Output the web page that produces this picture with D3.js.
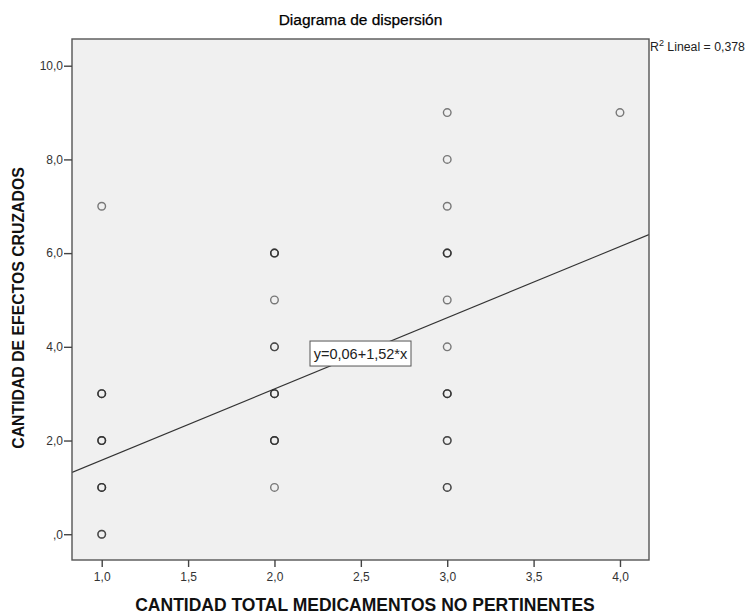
<!DOCTYPE html>
<html>
<head>
<meta charset="utf-8">
<script src="https://cdn.jsdelivr.net/npm/d3@7.9.0/dist/d3.min.js"></script>
<style>
  body { margin: 0; background: #fff; }
  svg { font-family: Arial, "Liberation Sans", sans-serif; }
</style>
</head>
<body>
<svg id="chart" width="748" height="615"></svg>
<script>
// data: one entry per case (duplicates overlap and look darker)
const xValues = [
  1, 1, 1, 1, 1, 1, 1, 1, 1, 1, 1, 1,
  2, 2, 2, 2, 2, 2, 2, 2, 2, 2, 2, 2, 2,
  3, 3, 3, 3, 3, 3, 3, 3, 3, 3, 3, 3, 3, 3, 3,
  4
];
const yValues = [
  7, 3, 3, 3, 2, 2, 2, 1, 1, 1, 0, 0,
  6, 6, 6, 5, 4, 4, 3, 3, 3, 2, 2, 2, 1,
  9, 8, 7, 6, 6, 6, 5, 4, 3, 3, 3, 2, 2, 1, 1,
  9
];
const xTicks = [1, 1.5, 2, 2.5, 3, 3.5, 4];
const yTicks = [0, 2, 4, 6, 8, 10];
const intercept = 0.06;
const slope = 1.52;
const rSquared = "0,378";

const fmt = (v) => (v === 0 ? ",0" : d3.format(".1f")(v).replace(".", ","));

const svg = d3.select("#chart");
const pLeft = 72, pRight = 649, pTop = 39, pBottom = 560;

let x = d3.scaleLinear().domain([0.828, 4.168]).range([pLeft, pRight]);
let y = d3.scaleLinear().domain([-0.55, 10.57]).range([pBottom, pTop]);

// plot background
svg.append("rect")
  .attr("x", pLeft).attr("y", pTop)
  .attr("width", pRight - pLeft).attr("height", pBottom - pTop)
  .attr("fill", "#f0f0f0");

// fit line, clipped to the frame
svg.append("defs").append("clipPath").attr("id", "clip")
  .append("rect").attr("x", pLeft).attr("y", pTop)
  .attr("width", pRight - pLeft).attr("height", pBottom - pTop);

const [x0, x1] = x.domain();
svg.append("line")
  .attr("clip-path", "url(#clip)")
  .attr("x1", x(x0)).attr("y1", y(intercept + slope * x0))
  .attr("x2", x(x1)).attr("y2", y(intercept + slope * x1))
  .attr("stroke", "#333").attr("stroke-width", 1.1);

// points
svg.append("g").selectAll("circle")
  .data(xValues.map((d, i) => [d, yValues[i]]))
  .join("circle")
  .attr("cx", (d) => x(d[0]))
  .attr("cy", (d) => y(d[1]))
  .attr("r", 3.8)
  .attr("fill", "none")
  .attr("stroke", "rgba(40,40,40,0.6)")
  .attr("stroke-width", 1.4);

// equation box at the middle of the x range
const xm = (x0 + x1) / 2;
const eq = svg.append("g")
  .attr("transform", `translate(${x(xm)},${y(intercept + slope * xm)})`);
eq.append("rect")
  .attr("x", -50.5).attr("y", -12.5).attr("width", 101).attr("height", 25)
  .attr("fill", "#fff").attr("stroke", "#555").attr("stroke-width", 1);
eq.append("text")
  .attr("text-anchor", "middle").attr("dy", "0.36em")
  .attr("font-size", 14.5).attr("fill", "#222")
  .text(`y=${String(intercept).replace(".", ",")}+${String(slope).replace(".", ",")}*x`);

// frame
svg.append("rect")
  .attr("x", pLeft).attr("y", pTop)
  .attr("width", pRight - pLeft).attr("height", pBottom - pTop)
  .attr("fill", "none").attr("stroke", "#555").attr("stroke-width", 1.4);

// axes
const xAxis = svg.append("g")
  .attr("transform", `translate(0,${pBottom})`)
  .call(d3.axisBottom(x).tickValues(xTicks).tickSize(7).tickPadding(5).tickFormat(fmt));
const yAxis = svg.append("g")
  .attr("transform", `translate(${pLeft},0)`)
  .call(d3.axisLeft(y).tickValues(yTicks).tickSize(8).tickPadding(1).tickFormat(fmt));
[xAxis, yAxis].forEach((a) => {
  a.select(".domain").remove();
  a.selectAll(".tick line").attr("stroke", "#444").attr("stroke-width", 1.4);
  a.selectAll(".tick text").attr("font-size", 12).attr("fill", "#333")
    .attr("font-family", "Arial, 'Liberation Sans', sans-serif");
});

// title
svg.append("text")
  .attr("x", (pLeft + pRight) / 2).attr("y", 25)
  .attr("text-anchor", "middle").attr("font-size", 15.5).attr("fill", "#000")
  .attr("stroke", "#000").attr("stroke-width", 0.25)
  .text("Diagrama de dispersión");

// axis titles
svg.append("text")
  .attr("x", 365).attr("y", 611)
  .attr("text-anchor", "middle").attr("font-size", 17.5)
  .attr("font-weight", "bold").attr("fill", "#111")
  .text("CANTIDAD TOTAL MEDICAMENTOS NO PERTINENTES");

svg.append("text")
  .attr("transform", `translate(24,308) rotate(-90)`)
  .attr("text-anchor", "middle").attr("font-size", 15.8)
  .attr("font-weight", "bold").attr("fill", "#111")
  .text("CANTIDAD DE EFECTOS CRUZADOS");

// R² label
const r2 = svg.append("text")
  .attr("x", pRight + 1).attr("y", 51)
  .attr("font-size", 12.3).attr("fill", "#222");
r2.append("tspan").text("R");
r2.append("tspan").attr("font-size", 9).attr("dy", -5).text("2");
r2.append("tspan").attr("dy", 5).text(` Lineal = ${rSquared}`);
</script>
</body>
</html>
